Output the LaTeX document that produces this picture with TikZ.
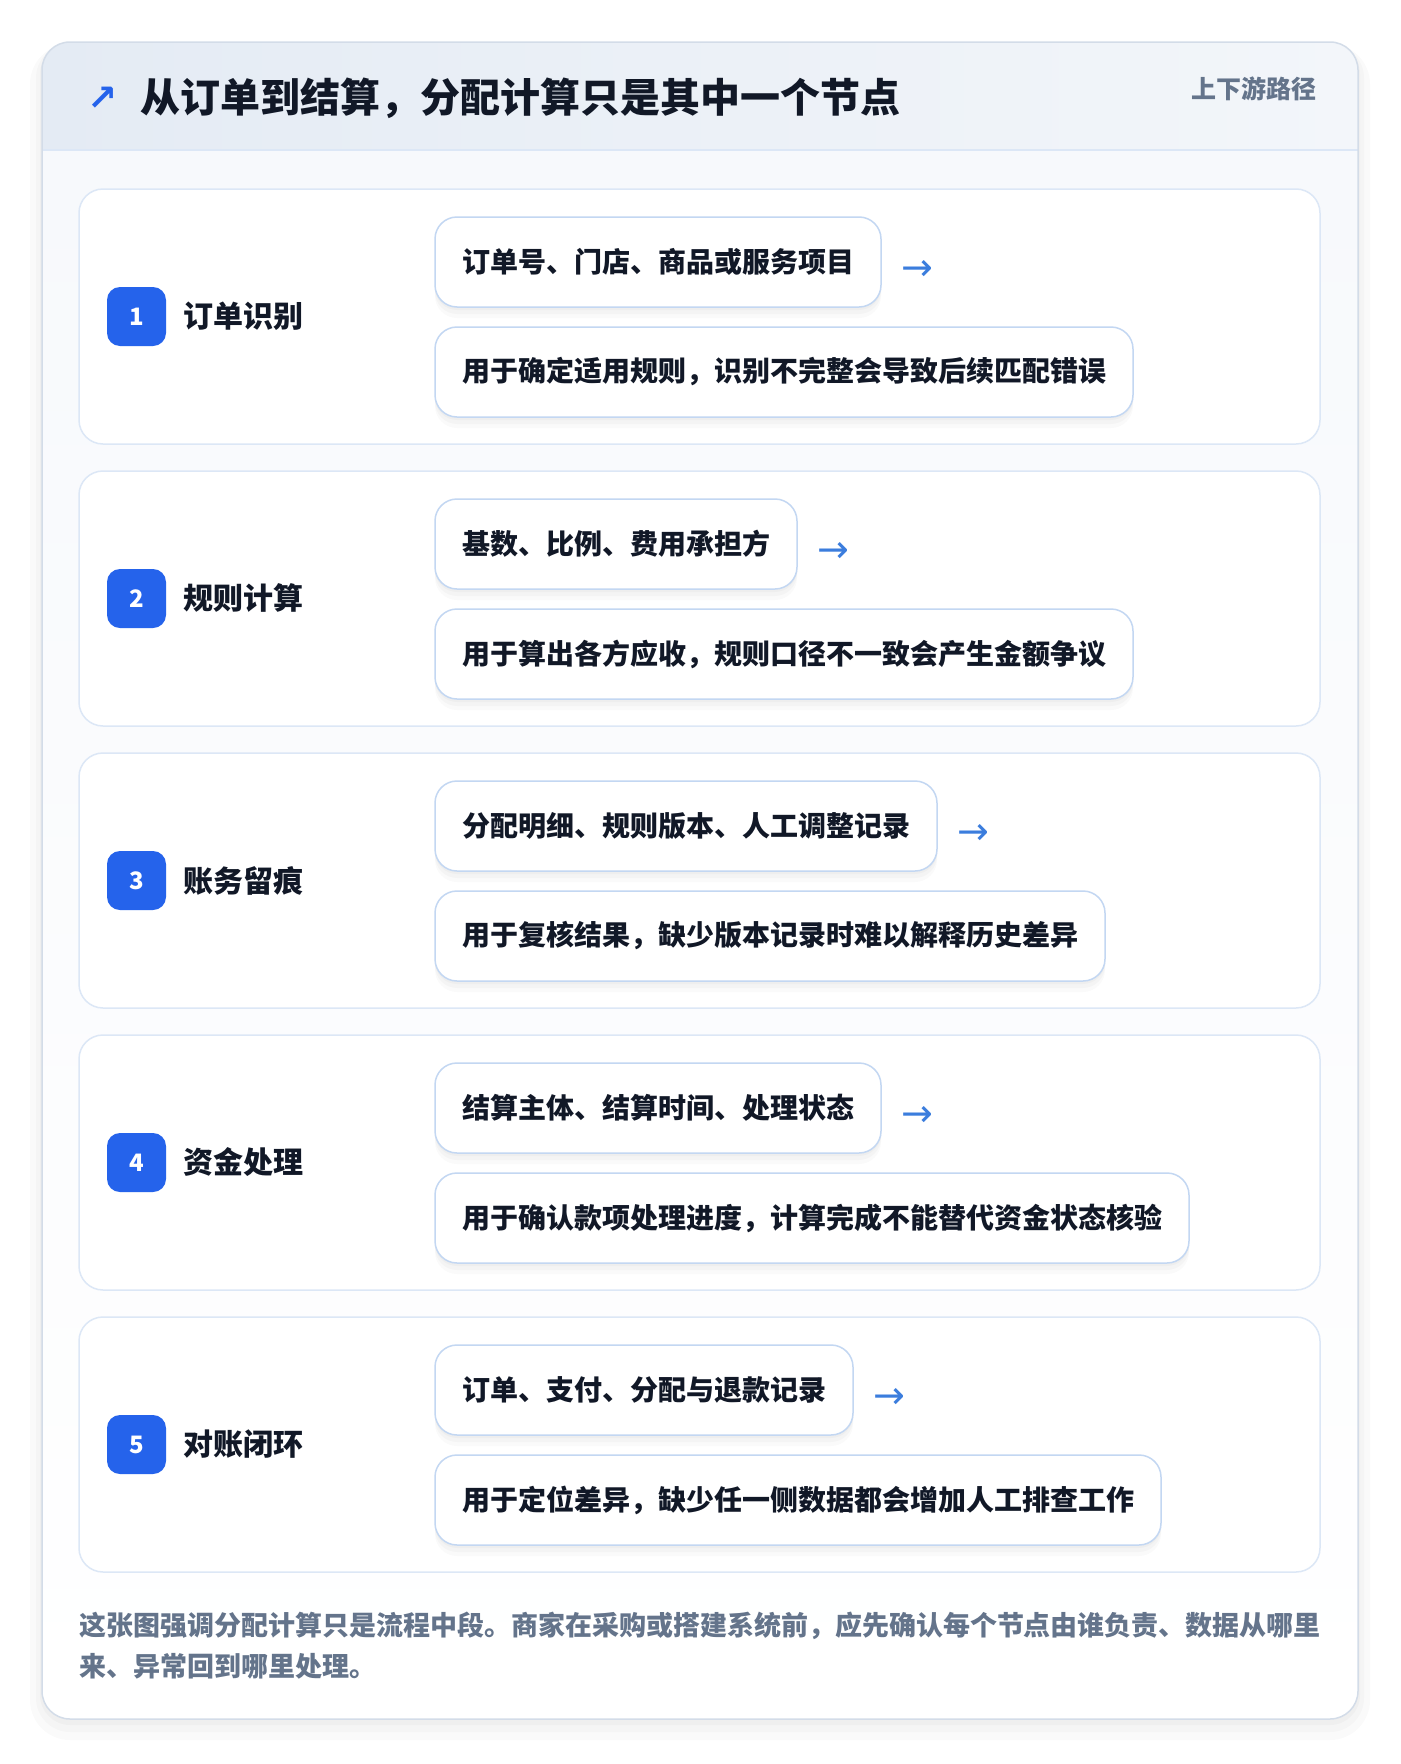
\documentclass[tikz,border=0pt]{standalone}
\usepackage{fontspec}
\setmainfont{Noto Sans CJK SC}[BoldFont={Noto Sans CJK SC Black}]
\newfontfamily\symfont{DejaVu Sans}
\usetikzlibrary{positioning,calc}

\definecolor{inkdark}{HTML}{111827}
\definecolor{inkgrey}{HTML}{64748B}
\definecolor{badgeblue}{HTML}{2563EB}
\definecolor{arrowblue}{HTML}{3B7DDD}
\definecolor{boxedge}{HTML}{C3D7F2}
\definecolor{cardedge}{HTML}{DCE7F6}
\definecolor{bodybg}{HTML}{F7F9FC}
\definecolor{headleft}{HTML}{E4EBF4}
\definecolor{headright}{HTML}{F3F6FA}
\definecolor{outeredge}{HTML}{D3DCE8}

\begin{document}
\begin{tikzpicture}[x=1pt,y=-1pt]
                        \tikzstyle{every node}=[inner sep=0,outer sep=0,text=inkdark]
                        \tikzstyle{note}=[draw=none,fill=none]
                        \tikzstyle{lift}=[preaction={fill=black,opacity=0.025,transform canvas={yshift=-3pt}},
                            preaction={fill=black,opacity=0.025,transform canvas={yshift=-7pt}},
                            preaction={fill=black,opacity=0.02,transform canvas={yshift=-11pt}}]
                        \tikzstyle{stagecard}=[draw=cardedge,line width=1.5,fill=white,rounded corners=24,
                            minimum width=1241,minimum height=255,anchor=north west]
                        \tikzstyle{badge}=[fill=badgeblue,rounded corners=13,minimum size=59,
                            text=white,font=\bfseries\fontsize{24}{24}\selectfont]
                        \tikzstyle{stagename}=[note,font=\bfseries\fontsize{30}{30}\selectfont]
                        \tikzstyle{infobox}=[lift,draw=boxedge,line width=1.5,fill=white,rounded corners=22,
                            minimum height=90,inner xsep=27,font=\bfseries\fontsize{28}{28}\selectfont]
                        \tikzstyle{flowarrow}=[note,text=arrowblue,font=\symfont\fontsize{38}{38}\selectfont]

                        \useasboundingbox (0,0) rectangle (1400,1764);
                        \fill[white] (0,0) rectangle (1400,1764);

                        % outer card with header band
                        \fill[black,opacity=0.02,rounded corners=40] (30,44) rectangle (1370,1740);
                        \fill[black,opacity=0.02,rounded corners=34] (36,44) rectangle (1364,1732);
                        \fill[black,opacity=0.025,rounded corners=30] (40,44) rectangle (1360,1725);
                        \fill[white,rounded corners=28] (42,42) rectangle (1358,1719);
                        \begin{scope}
                            \clip[rounded corners=28] (42,42) rectangle (1358,1719);
                            \shade[top color=bodybg,bottom color=white] (42,150) rectangle (1358,1719);
                            \shade[left color=headleft,right color=headright] (42,42) rectangle (1358,150);
                            \draw[cardedge,line width=2] (42,150) -- (1358,150);
                        \end{scope}
                        \draw[outeredge,line width=1.5,rounded corners=28] (42,42) rectangle (1358,1719);

                        \node[note,anchor=west,font=\bfseries\fontsize{40}{40}\selectfont] (title) at (140,98)
                            {从订单到结算，分配计算只是其中一个节点};
                        \node[note,left=22 of title,yshift=-1pt,text=badgeblue,font=\symfont\bfseries\fontsize{36}{36}\selectfont] (titlearrow) {↗};
                        \node[note,anchor=east,text=inkgrey,font=\bfseries\fontsize{25}{25}\selectfont] (tag) at (1316,89) {上下游路径};

                        % five stages
                        {
                            \newcount\dist
                            \foreach \num/\stage/\key/\use in {
                                1/订单识别/订单号、门店、商品或服务项目/用于确定适用规则，识别不完整会导致后续匹配错误,
                                2/规则计算/基数、比例、费用承担方/用于算出各方应收，规则口径不一致会产生金额争议,
                                3/账务留痕/分配明细、规则版本、人工调整记录/用于复核结果，缺少版本记录时难以解释历史差异,
                                4/资金处理/结算主体、结算时间、处理状态/用于确认款项处理进度，计算完成不能替代资金状态核验,
                                5/对账闭环/订单、支付、分配与退款记录/用于定位差异，缺少任一侧数据都会增加人工排查工作} {
                                \dist=\num
                                \advance\dist by -1
                                \multiply\dist by 282
                                \advance\dist by 189
                                \node[stagecard] (card\num) at (79,\dist) {};
                                \node[badge,right=28pt of card\num.west] (badge\num) {\num};
                                \node[stagename,right=17pt of badge\num] (stage\num) {\stage};
                                \node[infobox,below right=28pt and 356pt of card\num.north west] (key\num) {\key};
                                \node[infobox,below=20pt of key\num.south west,anchor=north west] (use\num) {\use};
                                \node[flowarrow,right=20pt of key\num,yshift=-8pt] (arrow\num) {→};
                            }
                        }

                        \node[note,below=40pt of card5.south west,anchor=north west,align=left,text=inkgrey,
                            font=\bfseries\fontsize{27}{41}\selectfont] (summary)
                            {这张图强调分配计算只是流程中段。商家在采购或搭建系统前，应先确认每个节点由谁负责、数据从哪里\\
                             来、异常回到哪里处理。};
\end{tikzpicture}
\end{document}
